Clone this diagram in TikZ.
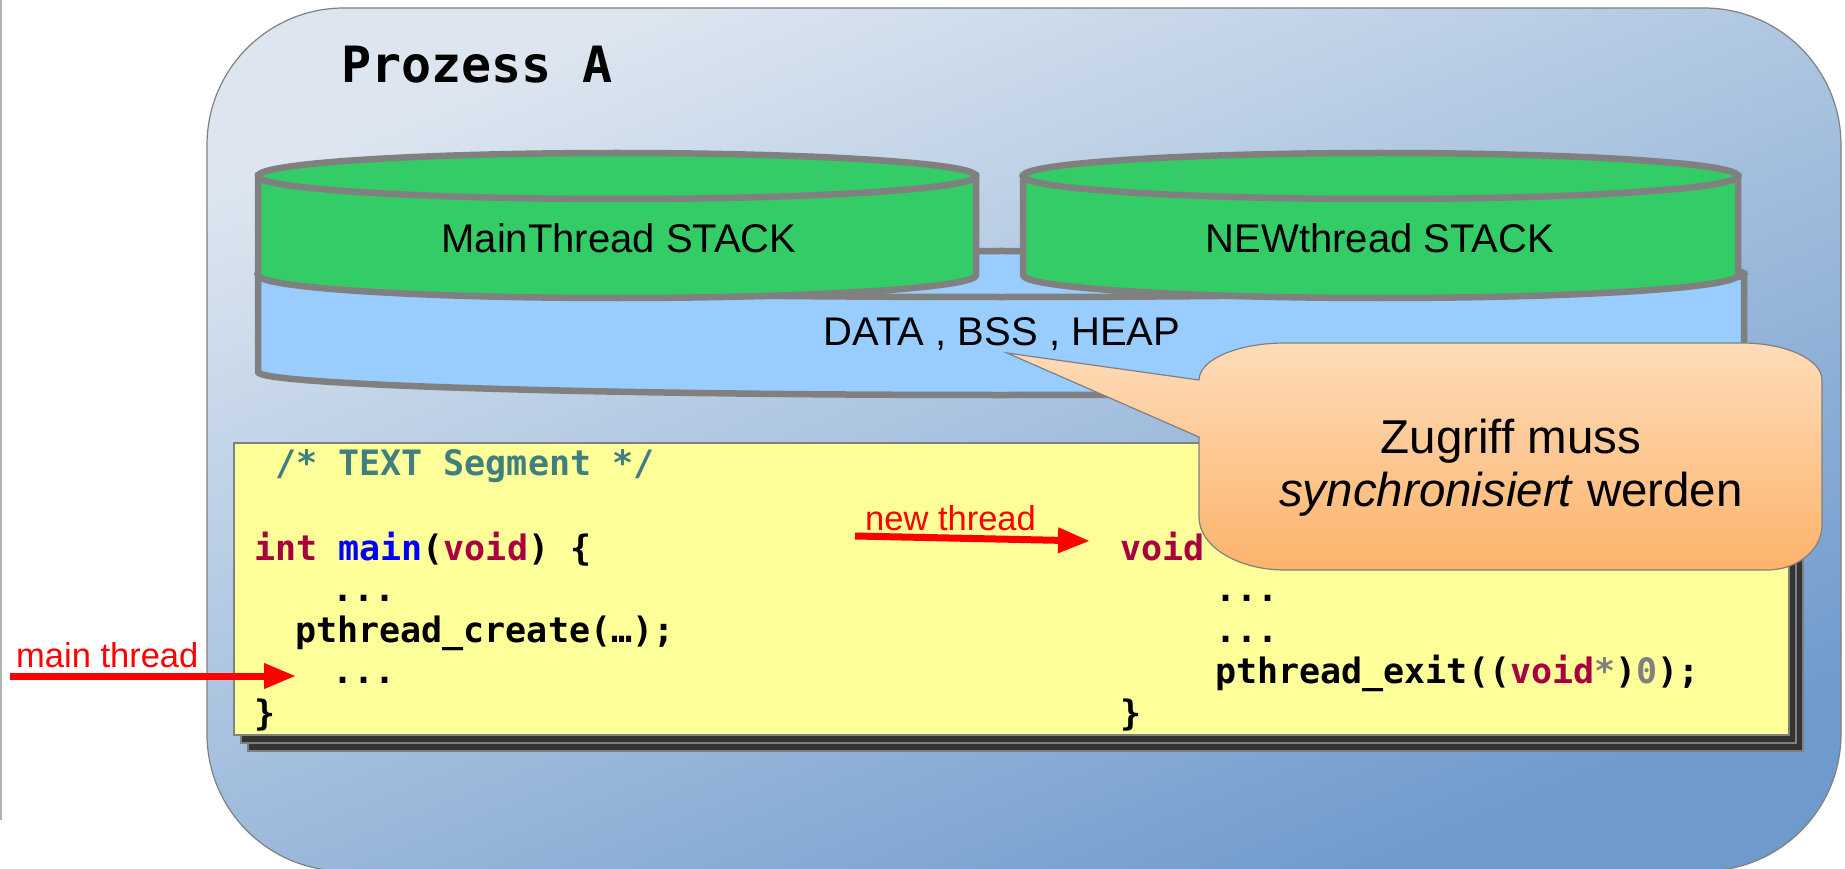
\documentclass[tikz,border=0pt]{standalone}
\usepackage{fontspec}
\setmainfont{Liberation Sans}
\newfontfamily\codefont{DejaVu Sans Mono}
\usetikzlibrary{arrows.meta,positioning}

\definecolor{kwred}{HTML}{A8003F}
\definecolor{cmtteal}{HTML}{3F7F7F}
\definecolor{drumgray}{HTML}{808080}
\definecolor{stackgreen}{HTML}{33CC66}
\definecolor{heapblue}{HTML}{99CCFF}
\definecolor{codeyellow}{HTML}{FFFF99}
\definecolor{procstart}{HTML}{DDE6F0}
\definecolor{procend}{HTML}{6E9ACC}
\definecolor{notetop}{HTML}{FDDCB9}
\definecolor{notebottom}{HTML}{FDB36B}

\newcommand\kw[1]{\textcolor{kwred}{#1}}
% drum: left, right, top y, bottom y, fill
\newcommand\drum[5]{%
  \pgfmathsetmacro\drumrx{(#2-#1)/2}
  \draw[drumline,fill=#5] (#1,#3) -- (#1,#4) arc[start angle=180,end angle=0,x radius=\drumrx,y radius=23] -- (#2,#3) -- cycle;
  \draw[drumline,fill=#5] ({(#1+#2)/2},#3) ellipse[x radius=\drumrx,y radius=23];
}

\begin{document}
\begin{tikzpicture}[x=1pt,y=-1pt,
  drumline/.style={draw=drumgray,line width=6.5pt},
  stacktext/.style={anchor=base,inner sep=0pt,font=\fontsize{40}{48}\selectfont},
  codeline/.style={anchor=base west,inner sep=0pt,font=\codefont\bfseries\fontsize{35}{42}\selectfont},
  redtext/.style={anchor=base west,inner sep=0pt,text=red,font=\fontsize{34.5}{40}\selectfont},
  thread/.style={red,line width=7pt,-{Triangle[length=32pt,width=24pt]}}]

\useasboundingbox (0,0) rectangle (1845,869);
\draw[black!30,line width=1.5pt] (1,0) -- (1,820);

\draw[draw=gray,line width=1.2pt,rounded corners=137pt,top color=procstart,bottom color=procend,shading angle=22]
  (207,8) rectangle (1841,871);
\node[anchor=base west,inner sep=0pt,font=\codefont\bfseries\fontsize{50}{60}\selectfont] (title) at (341,83) {Prozess A};

\drum{258}{1744}{274}{372}{heapblue}
\drum{258}{976}{176}{275}{stackgreen}
\drum{1023}{1738}{176}{275}{stackgreen}

\node[stacktext] (mainstack) at (619,252) {MainThread STACK};
\node[stacktext] (newstack) at (1380,252) {NEWthread STACK};
\node[stacktext] (heap) at (1002,345) {DATA , BSS , HEAP};

\draw[draw=gray,line width=1.2pt,fill=black!80] (248,459) rectangle (1803,751);
\draw[draw=gray,line width=1.2pt,fill=black!80] (241,451) rectangle (1796,743);
\draw[draw=gray,line width=1.2pt,fill=codeyellow] (234,443) rectangle (1789,735);

\node[codeline,text=cmtteal] (cmt) at (275,475) {/* TEXT Segment */};
\node[codeline] (msig) at (254,560) {\kw{int} \textcolor{blue}{main}(\kw{void}) \{};
\node[codeline] (mdotsa) at (332,601) {...};
\node[codeline] (mcreate) at (295,642) {pthread\_create(…);};
\node[codeline] (mdotsb) at (332,683) {...};
\node[codeline] (mclose) at (254,725) {\}};
\node[codeline] (tsig) at (1120,560) {\kw{void}};
\node[codeline] (tdotsa) at (1215,601) {...};
\node[codeline] (tdotsb) at (1215,642) {...};
\node[codeline] (texit) at (1215,683) {pthread\_exit((\kw{void}\textcolor{gray}{*})\textcolor{gray}{0});};
\node[codeline] (tclose) at (1120,725) {\}};

\draw[draw=gray,line width=1.2pt,top color=notetop,bottom color=notebottom]
  (1007,353) -- (1199,380) arc[start angle=180,end angle=270,x radius=86,y radius=37]
  -- (1742,343) arc[start angle=270,end angle=360,x radius=80,y radius=37]
  -- (1822,525) arc[start angle=0,end angle=90,x radius=55,y radius=45]
  -- (1285,570) arc[start angle=90,end angle=180,x radius=86,y radius=53]
  -- (1199,437) -- cycle;
\node[align=center,inner sep=0pt,font=\fontsize{47.5}{53}\selectfont] (note) at (1511,468) {Zugriff muss\\\textit{synchronisiert} werden};

\node[redtext] (mainlbl) at (16,667) {main thread};
\node[redtext] (newlbl) at (865,530) {new thread};
\coordinate (mainfrom) at (10,676);
\coordinate (mainto) at (296,676);
\coordinate (newfrom) at (855,536);
\coordinate (newto) at (1090,541);

\path[thread] (mainfrom) edge (mainto) (newfrom) edge (newto);

\end{tikzpicture}
\end{document}
